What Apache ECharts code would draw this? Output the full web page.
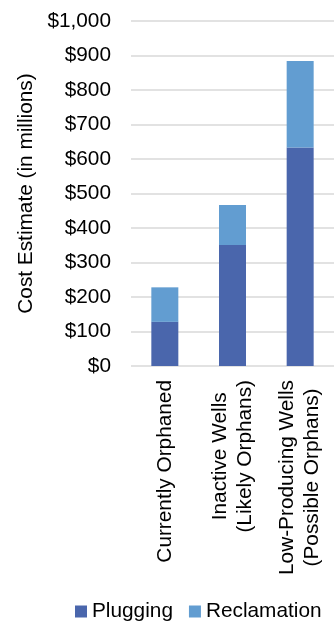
<!DOCTYPE html>
<html>
<head>
<meta charset="utf-8">
<script src="https://cdn.jsdelivr.net/npm/echarts@6/dist/echarts.min.js"></script>
<style>
html,body{margin:0;padding:0;background:#fff;}
#chart{width:334px;height:622px;}
</style>
</head>
<body>
<div id="chart"></div>
<script>
var categories = ['Currently Orphaned', 'Inactive Wells\n(Likely Orphans)', 'Low-Producing Wells\n(Possible Orphans)'];
var plugging = [128, 351, 633];
var reclamation = [100, 116, 251];
var yTicks = [0, 100, 200, 300, 400, 500, 600, 700, 800, 900, 1000];
var seriesNames = ['Plugging', 'Reclamation'];

var FONT = '"Liberation Sans", Arial, sans-serif';
var FS = 20.8;
var chart = echarts.init(document.getElementById('chart'), null, {renderer: 'canvas'});
chart.setOption({
  animation: false,
  textStyle: {fontFamily: FONT},
  grid: {left: 131, right: -4, top: 21, bottom: 256, containLabel: false},
  legend: {
    data: seriesNames,
    left: 75, top: 601, padding: 0,
    icon: 'rect', itemWidth: 12, itemHeight: 12, itemGap: 16,
    textStyle: {fontFamily: FONT, fontSize: FS, color: '#000'}
  },
  xAxis: {
    type: 'category',
    data: categories,
    axisLine: {show: false},
    axisTick: {show: false},
    axisLabel: {
      rotate: 90, margin: 14, interval: 0,
      color: '#000', fontFamily: FONT, fontSize: FS,
      formatter: function (v) {
        return v.split('\n').map(function (l) { return '{c|' + l + '}'; }).join('\n');
      },
      rich: {c: {align: 'center', fontFamily: FONT, fontSize: FS, lineHeight: 25, color: '#000'}}
    }
  },
  yAxis: {
    type: 'value',
    min: yTicks[0], max: yTicks[yTicks.length - 1], interval: 100,
    name: 'Cost Estimate (in millions)',
    nameLocation: 'middle', nameRotate: 90, nameGap: 92,
    nameTextStyle: {fontFamily: FONT, fontSize: FS, color: '#000'},
    axisLine: {show: false}, axisTick: {show: false},
    axisLabel: {
      margin: 20, color: '#000', fontFamily: FONT, fontSize: FS,
      formatter: function (v) { return '$' + v.toLocaleString('en-US'); }
    },
    splitLine: {lineStyle: {color: '#d9d9d9', width: 1.5}}
  },
  series: [
    {name: seriesNames[0], type: 'bar', stack: 'total', data: plugging, barWidth: 27,
     itemStyle: {color: '#4a66ac'}},
    {name: seriesNames[1], type: 'bar', stack: 'total', data: reclamation, barWidth: 27,
     itemStyle: {color: '#629dd1'}}
  ]
});
</script>
</body>
</html>
